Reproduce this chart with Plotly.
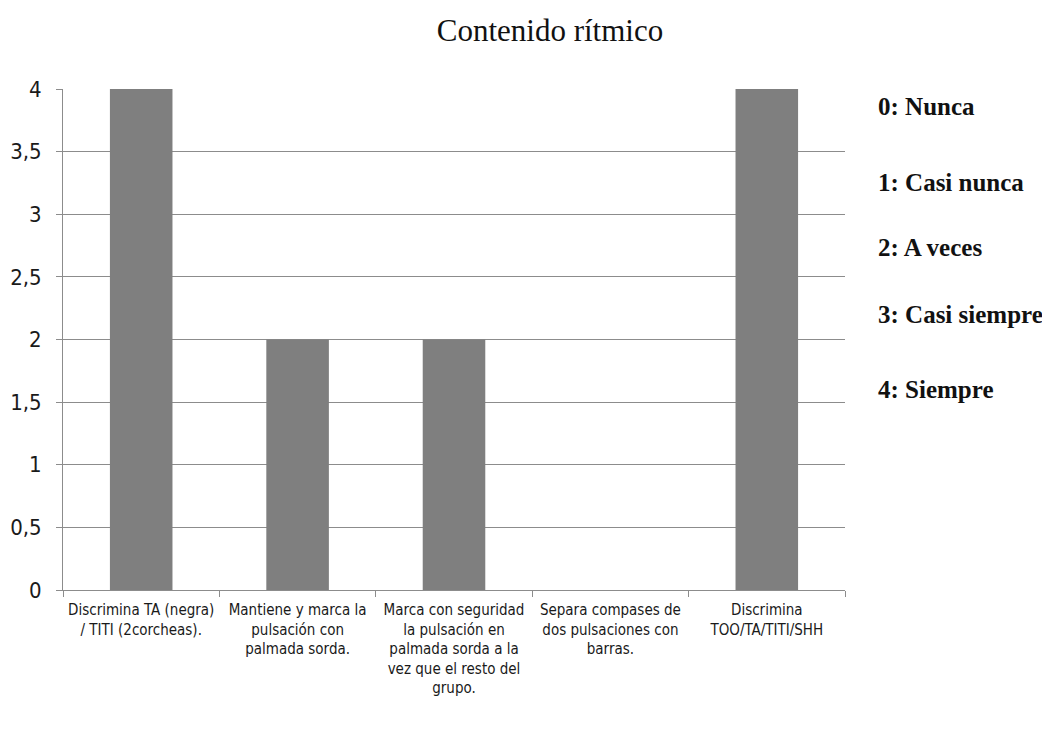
import plotly.graph_objects as go

categories = [
    "Discrimina TA (negra)<br>/ TITI (2corcheas).",
    "Mantiene y marca la<br>pulsación con<br>palmada sorda.",
    "Marca con seguridad<br>la pulsación en<br>palmada sorda a la<br>vez que el resto del<br>grupo.",
    "Separa compases de<br>dos pulsaciones con<br>barras.",
    "Discrimina<br>TOO/TA/TITI/SHH",
]
values = [4, 2, 2, 0, 4]
y_ticks = [0, 0.5, 1, 1.5, 2, 2.5, 3, 3.5, 4]
y_tick_labels = ["0", "0,5", "1", "1,5", "2", "2,5", "3", "3,5", "4"]
legend_lines = ["0: Nunca", "1: Casi nunca", "2: A veces", "3: Casi siempre", "4: Siempre"]
legend_y = [107, 182, 248, 314, 389]

# target plot-area box (screen px) : x 63..845, y 89..590 ; page body adds 8px offset
PX0, PX1, PY0, PY1 = 63, 845, 89, 590
OFF = 8
W, H = 1042, 726

fig = go.Figure()
fig.add_trace(go.Bar(x=categories, y=values, marker=dict(color="#7f7f7f", line=dict(width=0)),
                     width=0.4, hoverinfo="skip"))

narrow = "DejaVu Sans Condensed, sans-serif"
fig.update_layout(
    width=W, height=H,
    margin=dict(l=PX0 - OFF, r=W - (PX1 - OFF), t=PY0 - OFF, b=H - (PY1 - OFF), autoexpand=False),
    paper_bgcolor="white", plot_bgcolor="white",
    showlegend=False,
    title=dict(text="Contenido rítmico", x=(550 - OFF) / W, xanchor="center",
               y=1 - (30 - OFF) / H, yanchor="middle",
               font=dict(family="Liberation Serif, serif", size=31, color="#111111")),
    xaxis=dict(
        showline=True, linecolor="#8c8c8c", linewidth=1,
        ticks="outside", tickson="boundaries", ticklen=6, tickcolor="#8c8c8c",
        tickfont=dict(family=narrow, size=15, color="#1a1a1a"),
        showgrid=False, tickangle=0, ticklabelstandoff=6,
    ),
    yaxis=dict(
        range=[0, 4], tickvals=y_ticks, ticktext=y_tick_labels,
        showline=True, linecolor="#8c8c8c", linewidth=1,
        ticks="outside", ticklen=6, tickcolor="#8c8c8c",
        showgrid=True, gridcolor="#8c8c8c", gridwidth=1,
        zeroline=False, ticklabelstandoff=10,
        tickfont=dict(family=narrow, size=22, color="#1a1a1a"),
    ),
    bargap=0.6,
)

for text, yp in zip(legend_lines, legend_y):
    fig.add_annotation(text="<b>" + text + "</b>", xref="paper", yref="paper",
                       x=(876 - PX0) / (PX1 - PX0), xanchor="left",
                       y=1 - (yp - PY0) / (PY1 - PY0), yanchor="middle",
                       showarrow=False,
                       font=dict(family="Liberation Serif, serif", size=25, color="#111111"))

fig.write_html("out.html")
